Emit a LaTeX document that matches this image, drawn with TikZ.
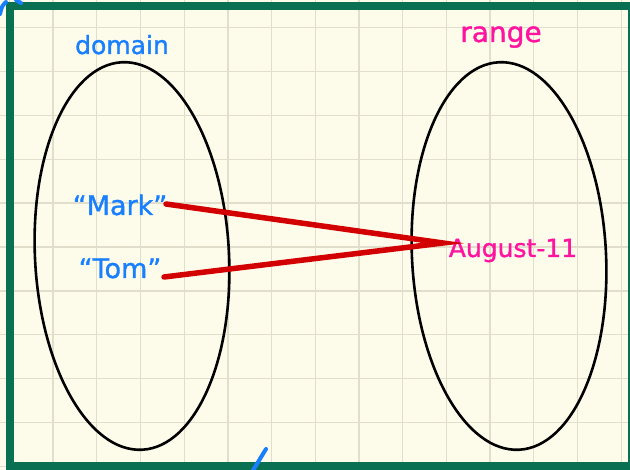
\documentclass[tikz,border=0pt]{standalone}
\usepackage{fontspec}
\setmainfont{DejaVu Sans}
\newfontfamily\handfont{DejaVu Sans}[FakeBold=1.2]
\definecolor{paper}{RGB}{253,251,234}
\definecolor{gridc}{RGB}{226,222,204}
\definecolor{frame}{RGB}{10,112,82}
\definecolor{bluet}{RGB}{24,128,255}
\definecolor{magt}{RGB}{255,20,160}
\definecolor{redl}{RGB}{210,0,0}
\begin{document}
\begin{tikzpicture}[x=1pt,y=-1pt,
  settxt/.style={font=\handfont\fontsize{25}{30}\selectfont, inner sep=0pt, anchor=base},
  setshape/.style={draw=black, line width=2.6pt},
  maparrow/.style={draw=redl, line width=5.5pt, line cap=round},
  penmark/.style={draw=bluet, line width=4pt, line cap=round}]
\useasboundingbox (0,0) rectangle (630,470);
\fill[paper] (0,0) rectangle (630,470);
% grid
\foreach \i in {0,...,14} {
  \draw[gridc, line width=1.3pt] ({9.4+43.7*\i},0) -- ({9.4+43.7*\i},470);
}
\foreach \j in {0,...,10} {
  \draw[gridc, line width=1.3pt] (0,{27.5+43.9*\j}) -- (630,{27.5+43.9*\j});
}
% frame
\draw[frame, line width=8pt] (10,6) rectangle (632,466);
% sets
\draw[setshape, rotate around={3:(132,256)}] (132,256) ellipse [x radius=97, y radius=194];
\draw[setshape, rotate around={3:(509,256)}] (509,256) ellipse [x radius=97, y radius=194];
% labels
\node[settxt, text=bluet] (dom) at (122,54) {domain};
\node[settxt, text=magt, font=\handfont\fontsize{28}{32}\selectfont] (rng) at (501,42) {range};
\node[settxt, text=bluet, font=\handfont\fontsize{27}{32}\selectfont] (mark) at (120,215) {“Mark”};
\node[settxt, text=bluet, font=\handfont\fontsize{27}{32}\selectfont] (tom) at (120,278) {“Tom”};
\node[settxt, text=magt] (aug) at (513,257) {August-11};
% connectors
\coordinate (mk) at (166,204);
\coordinate (tm) at (164,277);
\coordinate (au) at (443,243);
\draw[maparrow] (mk) -- (au) -- (tm);
% pen marks
\coordinate (p1) at (252,472);
\coordinate (p2) at (266,449);
\draw[penmark] (p1) -- (p2);
\coordinate (q1) at (0,14);
\coordinate (q2) at (6,2);
\draw[penmark] (q1) .. controls (2,6) .. (q2);
\coordinate (r1) at (16,0);
\coordinate (r2) at (21,3);
\draw[penmark] (r1) -- (r2);
\end{tikzpicture}
\end{document}
